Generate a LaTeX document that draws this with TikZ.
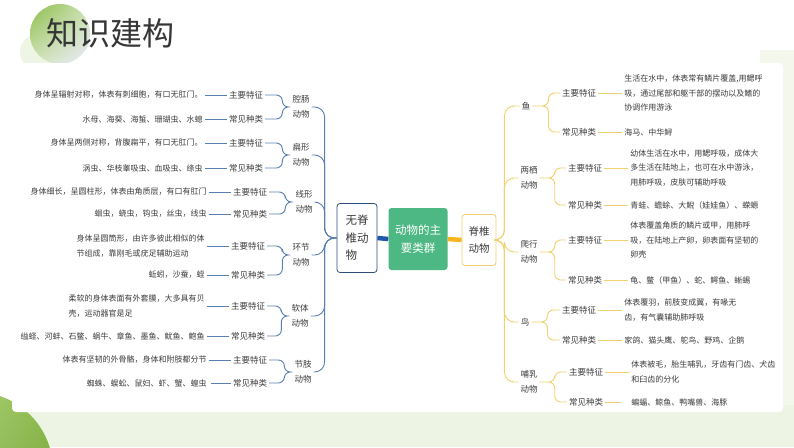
\documentclass[tikz,border=0pt]{standalone}
\usepackage{fontspec}
\setmainfont{Noto Sans CJK SC}
\usetikzlibrary{positioning, shadings}

\definecolor{txt}{HTML}{3C3C3C}
\definecolor{bluel}{HTML}{5A80B2}
\definecolor{bluek}{HTML}{1F58A8}
\definecolor{navy}{HTML}{2E4D78}
\definecolor{gold}{HTML}{F1D06E}
\definecolor{goldk}{HTML}{F5B51C}
\definecolor{mint}{HTML}{4DB883}
\definecolor{leafg}{HTML}{8CBC4A}
\definecolor{paleg}{HTML}{EDF4E4}

\begin{document}
\begin{tikzpicture}[x=1pt, y=-1pt,
    node distance=22pt,
    root/.style={fill=mint, rounded corners=3pt, text=white,
                 minimum width=59pt, minimum height=62pt,
                 font=\fontsize{11.5}{18}\selectfont, align=center, inner sep=2pt},
    cat/.style={draw, rounded corners=3pt, fill=white, text=txt, line width=0.8pt,
                font=\fontsize{11.5}{17.5}\selectfont, align=left, inner sep=2pt},
    grp/.style={text=txt, font=\fontsize{8.5}{15}\selectfont, align=left, inner sep=2pt},
    tag/.style={text=txt, font=\fontsize{8.5}{12}\selectfont, inner sep=2pt},
    note/.style={text=txt, font=\fontsize{8}{14.5}\selectfont, align=left, inner sep=2pt},
    bline/.style={draw=bluel, line width=0.9pt},
    yline/.style={draw=gold, line width=0.9pt}]
  \useasboundingbox (0,0) rectangle (794,447);

  % background, blob, title
  \fill[white] (0,0) rectangle (794,447);
  \fill[paleg!70!white] (760,50) rectangle (794,447);
  \fill[paleg] (0,405) rectangle (794,447);
  \shade[upper left=leafg!55!white, upper right=leafg, lower left=leafg!85!white, lower right=leafg!85!black]
    (-25,470) circle (78);
  \fill[leafg!15!white] (38,52) circle (18);
  \shade[upper left=leafg, upper right=leafg!45!white, lower left=leafg!40!white, lower right=blue!8!white]
    (60,34) circle (30);
  \fill[white, rounded corners=4pt] (12,63) rectangle (783,412);
  \node[text=txt!90!black, font=\fontsize{32}{32}\selectfont] (ttl) at (110,33) {知识建构};

  % centre
  \node[root] (rt) at (418,239) {动物的主\\要类群};
  \node[cat, draw=navy, minimum width=40pt, minimum height=69pt] (inv) at (357,238) {无脊\\椎动\\物};
  \node[cat, draw=gold, font=\fontsize{10.5}{17}\selectfont, minimum width=34pt, minimum height=51pt] (ver) at (479,240) {脊椎\\动物};
  \draw[bluek, line width=4.5pt] (rt.west) -- (inv.east);
  \draw[goldk, line width=4.5pt] (rt.east) -- (ver.west);

  % left: invertebrates
  \node[grp] (qc) at (301,107) {腔肠\\动物};
  \node[tag] (qc1) at (246,95) {主要特征};
  \node[tag] (qc2) at (246,119) {常见种类};
  \node[note, left=of qc1] (qc1n) {身体呈辐射对称，体表有刺细胞，有口无肛门。};
  \node[note, left=of qc2] (qc2n) {水母、海葵、海蜇、珊瑚虫、水螅};

  \node[grp] (bx) at (301,155) {扁形\\动物};
  \node[tag] (bx1) at (246,143) {主要特征};
  \node[tag] (bx2) at (246,168) {常见种类};
  \node[note, left=of bx1] (bx1n) {身体呈两侧对称，背腹扁平，有口无肛门。};
  \node[note, left=of bx2] (bx2n) {涡虫、华枝睾吸虫、血吸虫、绦虫};

  \node[grp] (xx) at (304,202) {线形\\动物};
  \node[tag] (xx1) at (250,192) {主要特征};
  \node[tag] (xx2) at (250,214) {常见种类};
  \node[note, left=of xx1] (xx1n) {身体细长，呈圆柱形，体表由角质层，有口有肛门};
  \node[note, left=of xx2] (xx2n) {蛔虫，蛲虫，钩虫，丝虫，线虫};

  \node[grp] (hj) at (301,255) {环节\\动物};
  \node[tag] (hj1) at (248,246) {主要特征};
  \node[tag] (hj2) at (248,275) {常见种类};
  \node[note, left=of hj1] (hj1n) {身体呈圆筒形，由许多彼此相似的体\\节组成，靠刚毛或疣足辅助运动};
  \node[note, left=of hj2] (hj2n) {蚯蚓，沙蚕，蛭};

  \node[grp] (rti) at (300,316) {软体\\动物};
  \node[tag] (rti1) at (248,306) {主要特征};
  \node[tag] (rti2) at (248,336) {常见种类};
  \node[note, left=of rti1] (rti1n) {柔软的身体表面有外套膜，大多具有贝\\壳，运动器官是足};
  \node[note, left=of rti2] (rti2n) {缢蛏、河蚌、石鳖、蜗牛、章鱼、墨鱼、鱿鱼、鲍鱼};

  \node[grp] (jz) at (303,372) {节肢\\动物};
  \node[tag] (jz1) at (250,360) {主要特征};
  \node[tag] (jz2) at (250,383) {常见种类};
  \node[note, left=of jz1] (jz1n) {体表有坚韧的外骨骼，身体和附肢都分节};
  \node[note, left=of jz2] (jz2n) {蜘蛛、蜈蚣、鼠妇、虾、蟹、蝗虫};

  \draw[bline, shorten <=2pt] (qc1n) -- (qc1) (qc2n) -- (qc2) (bx1n) -- (bx1) (bx2n) -- (bx2)
    (xx1n) -- (xx1) (xx2n) -- (xx2) (hj1n) -- (hj1) (hj2n) -- (hj2)
    (rti1n) -- (rti1) (rti2n) -- (rti2) (jz1n) -- (jz1) (jz2n) -- (jz2);
  \draw[bline, rounded corners=6pt] (qc.west) -- ++(-8,0) |- (qc1.east) (qc.west) -- ++(-8,0) |- (qc2.east);
  \draw[bline, rounded corners=6pt] (bx.west) -- ++(-8,0) |- (bx1.east) (bx.west) -- ++(-8,0) |- (bx2.east);
  \draw[bline, rounded corners=6pt] (xx.west) -- ++(-8,0) |- (xx1.east) (xx.west) -- ++(-8,0) |- (xx2.east);
  \draw[bline, rounded corners=6pt] (hj.west) -- ++(-8,0) |- (hj1.east) (hj.west) -- ++(-8,0) |- (hj2.east);
  \draw[bline, rounded corners=6pt] (rti.west) -- ++(-8,0) |- (rti1.east) (rti.west) -- ++(-8,0) |- (rti2.east);
  \draw[bline, rounded corners=6pt] (jz.west) -- ++(-8,0) |- (jz1.east) (jz.west) -- ++(-8,0) |- (jz2.east);
  \draw[bline, rounded corners=10pt] (inv.west) -- ++(-12,0) |- (qc.east);
  \draw[bline, rounded corners=10pt] (inv.west) -- ++(-12,0) |- (bx.east);
  \draw[bline, rounded corners=10pt] (inv.west) -- ++(-12,0) |- (xx.east);
  \draw[bline, rounded corners=10pt] (inv.west) -- ++(-12,0) |- (hj.east);
  \draw[bline, rounded corners=10pt] (inv.west) -- ++(-12,0) |- (rti.east);
  \draw[bline, rounded corners=10pt] (inv.west) -- ++(-12,0) |- (jz.east);

  % right: vertebrates
  \node[grp] (yu) at (526,106) {鱼};
  \node[tag] (yu1) at (579,93) {主要特征};
  \node[tag] (yu2) at (579,132) {常见种类};
  \node[note, right=24pt of yu1] (yu1n) {生活在水中，体表常有鳞片覆盖,用鳃呼\\吸，通过尾部和躯干部的摆动以及鳍的\\协调作用游泳};
  \node[note, right=24pt of yu2] (yu2n) {海马、中华鲟};

  \node[grp] (lq) at (529,178) {两栖\\动物};
  \node[tag] (lq1) at (585,168) {主要特征};
  \node[tag] (lq2) at (585,205) {常见种类};
  \node[note, right=24pt of lq1] (lq1n) {幼体生活在水中，用鳃呼吸，成体大\\多生活在陆地上，也可在水中游泳，\\用肺呼吸，皮肤可辅助呼吸};
  \node[note, right=24pt of lq2] (lq2n) {青蛙、蟾蜍、大鲵（娃娃鱼）、蝾螈};

  \node[grp] (px) at (529,252) {爬行\\动物};
  \node[tag] (px1) at (585,240) {主要特征};
  \node[tag] (px2) at (585,280) {常见种类};
  \node[note, right=24pt of px1] (px1n) {体表覆盖角质的鳞片或甲，用肺呼\\吸，在陆地上产卵，卵表面有坚韧的\\卵壳};
  \node[note, right=24pt of px2] (px2n) {龟、鳖（甲鱼）、蛇、鳄鱼、蜥蜴};

  \node[grp] (ni) at (525,322) {鸟};
  \node[tag] (ni1) at (579,310) {主要特征};
  \node[tag] (ni2) at (579,340) {常见种类};
  \node[note, right=24pt of ni1] (ni1n) {体表覆羽，前肢变成翼，有喙无\\齿，有气囊辅助肺呼吸};
  \node[note, right=24pt of ni2] (ni2n) {家鸽、猫头鹰、鸵鸟、野鸡、企鹅};

  \node[grp] (br) at (529,382) {哺乳\\动物};
  \node[tag] (br1) at (586,372) {主要特征};
  \node[tag] (br2) at (586,402) {常见种类};
  \node[note, right=24pt of br1] (br1n) {体表被毛，胎生哺乳，牙齿有门齿、犬齿\\和臼齿的分化};
  \node[note, right=24pt of br2] (br2n) {蝙蝠、鲸鱼、鸭嘴兽、海豚};

  \draw[yline, shorten >=8pt] (yu1) -- (yu1n) (yu2) -- (yu2n) (lq1) -- (lq1n) (lq2) -- (lq2n)
    (px1) -- (px1n) (px2) -- (px2n) (ni1) -- (ni1n) (ni2) -- (ni2n) (br1) -- (br1n) (br2) -- (br2n);
  \draw[yline, rounded corners=6pt] (yu.east) -- ++(16,0) |- (yu1.west) (yu.east) -- ++(16,0) |- (yu2.west);
  \draw[yline, rounded corners=6pt] (lq.east) -- ++(15,0) |- (lq1.west) (lq.east) -- ++(15,0) |- (lq2.west);
  \draw[yline, rounded corners=6pt] (px.east) -- ++(15,0) |- (px1.west) (px.east) -- ++(15,0) |- (px2.west);
  \draw[yline, rounded corners=6pt] (ni.east) -- ++(16,0) |- (ni1.west) (ni.east) -- ++(16,0) |- (ni2.west);
  \draw[yline, rounded corners=6pt] (br.east) -- ++(15,0) |- (br1.west) (br.east) -- ++(15,0) |- (br2.west);
  \draw[yline, rounded corners=10pt] (ver.east) -- ++(8,0) |- (yu.west);
  \draw[yline, rounded corners=10pt] (ver.east) -- ++(8,0) |- (lq.west);
  \draw[yline, rounded corners=10pt] (ver.east) -- ++(8,0) |- (px.west);
  \draw[yline, rounded corners=10pt] (ver.east) -- ++(8,0) |- (ni.west);
  \draw[yline, rounded corners=10pt] (ver.east) -- ++(8,0) |- (br.west);
\end{tikzpicture}
\end{document}
